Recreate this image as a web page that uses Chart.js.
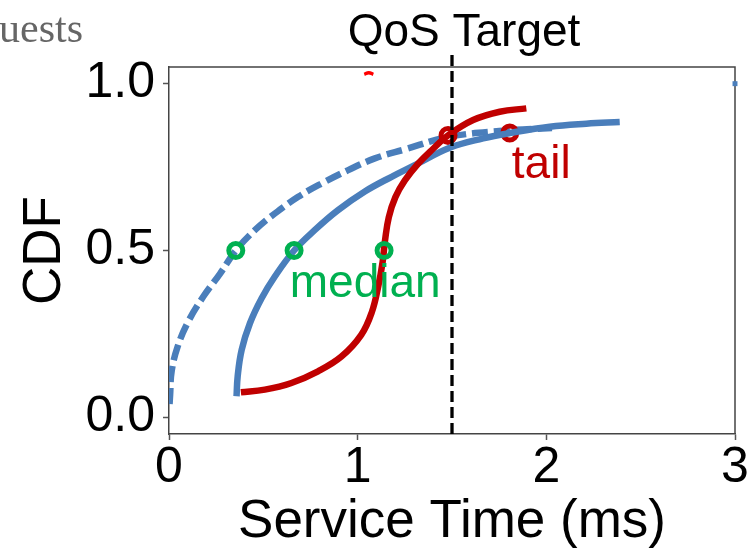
<!DOCTYPE html>
<html>
<head>
<meta charset="utf-8">
<script src="https://cdn.jsdelivr.net/npm/chart.js@4.4.1/dist/chart.umd.min.js"></script>
<style>
  html, body { margin: 0; padding: 0; background: #fff; }
  #wrap { width: 752px; height: 553px; }
</style>
</head>
<body>
<div id="wrap"><canvas id="cdf" width="752" height="553"></canvas></div>
<script>
const xTicks = [0, 1, 2, 3];
const yTicks = [0, 0.5, 1.0];
const qosTarget = 1.5;

// CDF of the dashed (lighter load) blue curve
const dashedX = [0.003, 0.006, 0.014, 0.046, 0.102, 0.182, 0.27, 0.354, 0.455, 0.561, 0.685, 0.809, 0.95, 1.091, 1.25, 1.479, 1.75, 2.03];
const dashedY = [0.040, 0.068, 0.138, 0.212, 0.287, 0.362, 0.43, 0.5, 0.561, 0.611, 0.661, 0.701, 0.741, 0.776, 0.803, 0.840, 0.858, 0.867];

// solid blue curve
const solidX = [0.358, 0.364, 0.385, 0.429, 0.491, 0.561, 0.663, 0.772, 0.896, 1.038, 1.18, 1.30, 1.488, 1.665, 1.806, 2.018, 2.212, 2.389];
const solidY = [0.063, 0.123, 0.202, 0.282, 0.357, 0.422, 0.5, 0.561, 0.621, 0.677, 0.721, 0.755, 0.808, 0.836, 0.852, 0.871, 0.880, 0.885];

// red curve
const redX = [0.381, 0.508, 0.649, 0.79, 0.914, 1.019, 1.075, 1.11, 1.132, 1.145, 1.165, 1.20, 1.25, 1.32, 1.40, 1.479, 1.612, 1.753, 1.894];
const redY = [0.075, 0.083, 0.103, 0.138, 0.182, 0.247, 0.315, 0.395, 0.465, 0.53, 0.60, 0.66, 0.71, 0.76, 0.805, 0.845, 0.891, 0.916, 0.926];

const medianX = [0.354, 0.663, 1.14];
const medianY = [0.5, 0.5, 0.5];
const tailX = [1.479, 1.806];
const tailY = [0.845, 0.852];

// small leftovers near the top edge
const stubRedX = [1.035, 1.059, 1.083];
const stubRedY = [1.028, 1.033, 1.028];
const stubBlueX = [3.0];
const stubBlueY = [1.0];

const qosLineY = [-0.05, 1.096];

const BLUE = '#4a7ebb', RED = '#c00000', GREEN = '#00b050';
const FONT = '"Liberation Sans", Arial, sans-serif';

const pts = (xs, ys) => xs.map((x, i) => ({ x, y: ys[i] }));

const curve = (data, color, extra) => Object.assign({
  data, showLine: true, borderColor: color, backgroundColor: color,
  borderWidth: 6.5, pointRadius: 0, fill: false, tension: 0.4
}, extra);

const ring = (data, color, order) => ({
  data, pointStyle: 'circle', pointRadius: 7, pointBorderWidth: 5,
  borderColor: color, backgroundColor: 'transparent', order
});

const extras = {
  id: 'extras',
  beforeDatasetsDraw(chart) {
    const { ctx, chartArea: a } = chart;
    ctx.save();
    ctx.strokeStyle = '#444';
    ctx.lineWidth = 1.5;
    ctx.beginPath();
    ctx.moveTo(a.left, a.top);
    ctx.lineTo(a.right, a.top);
    ctx.lineTo(a.right, a.bottom);
    ctx.stroke();
    ctx.restore();
  },
  afterDraw(chart) {
    const { ctx, chartArea: a, scales: { x, y } } = chart;
    ctx.save();
    ctx.textBaseline = 'alphabetic';
    ctx.font = `46px ${FONT}`;
    ctx.fillStyle = '#000';
    ctx.textAlign = 'center';
    ctx.fillText('QoS Target', x.getPixelForValue(qosTarget) + 12, a.top - 21);
    ctx.textAlign = 'left';
    ctx.fillStyle = GREEN;
    ctx.fillText('median', x.getPixelForValue(0.64), y.getPixelForValue(0.36));
    ctx.fillStyle = RED;
    ctx.fillText('tail', x.getPixelForValue(1.817), y.getPixelForValue(0.718));
    ctx.font = '42px "Liberation Serif", "Times New Roman", serif';
    ctx.fillStyle = '#666';
    ctx.fillText('uests', -1, 42);
    ctx.restore();
  }
};

new Chart(document.getElementById('cdf'), {
  type: 'scatter',
  data: {
    datasets: [
      ring(pts(medianX, medianY), GREEN, 0),
      curve(qosLineY.map(v => ({ x: qosTarget, y: v })), '#000',
        { borderWidth: 3.3, borderDash: [11, 5], tension: 0, clip: false, order: 1 }),
      curve(pts(redX, redY), RED, { order: 2 }),
      curve(pts(solidX, solidY), BLUE, { order: 3 }),
      ring(pts(tailX, tailY), RED, 4),
      curve(pts(dashedX, dashedY), BLUE, { borderDash: [16, 6], order: 5 }),
      curve(pts(stubRedX, stubRedY), '#ff0000', { borderWidth: 3.5, clip: false, order: 6 }),
      { data: pts(stubBlueX, stubBlueY), pointStyle: 'rect', pointRadius: 3.5, pointBorderWidth: 0,
        backgroundColor: BLUE, borderColor: BLUE, clip: false, order: 0 }
    ]
  },
  options: {
    responsive: false,
    animation: false,
    layout: { padding: { left: 0, top: 67, right: 17, bottom: 0 } },
    plugins: { legend: { display: false }, tooltip: { enabled: false } },
    scales: {
      x: {
        type: 'linear', min: 0, max: 3,
        afterBuildTicks: s => { s.ticks = xTicks.map(v => ({ value: v })); },
        afterFit: s => { s.height = 119; },
        ticks: { color: '#000', font: { family: FONT, size: 50, lineHeight: 1 }, padding: 3,
                 maxRotation: 0, callback: v => String(v) },
        grid: { display: true, drawOnChartArea: false, drawTicks: true, tickLength: 6, tickWidth: 1.5, tickColor: '#555' },
        border: { display: true, color: '#444', width: 1.5 },
        title: { display: true, text: 'Service Time (ms)', color: '#000',
                 font: { family: FONT, size: 53, lineHeight: 1 }, padding: { top: 0, bottom: 4 } }
      },
      y: {
        type: 'linear', min: -0.05, max: 1.05,
        afterBuildTicks: s => { s.ticks = yTicks.map(v => ({ value: v })); },
        afterFit: s => { s.width = 169; },
        ticks: { color: '#000', font: { family: FONT, size: 50, lineHeight: 1 }, padding: 8,
                 callback: v => v.toFixed(1) },
        grid: { display: true, drawOnChartArea: false, drawTicks: true, tickLength: 6, tickWidth: 1.5, tickColor: '#555' },
        border: { display: true, color: '#444', width: 1.5 },
        title: { display: true, text: 'CDF', color: '#000',
                 font: { family: FONT, size: 53, lineHeight: 1 }, padding: { top: 19, bottom: 0 } }
      }
    }
  },
  plugins: [extras]
});
</script>
</body>
</html>
